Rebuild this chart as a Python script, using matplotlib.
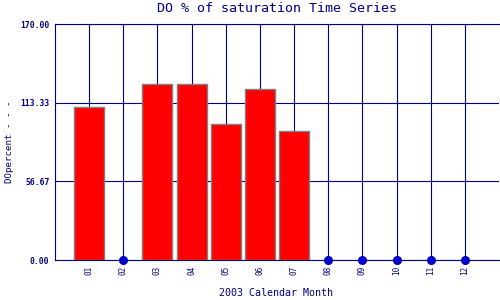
import matplotlib
matplotlib.use('Agg')
import matplotlib.pyplot as plt
import numpy as np

# 月份与数据 (缺测月份为 None)
months = [1, 2, 3, 4, 5, 6, 7, 8, 9, 10, 11, 12]
monthLabels = ['01', '02', '03', '04', '05', '06', '07', '08', '09', '10', '11', '12']
doPercent = [110.4, None, 126.6, 126.6, 97.7, 123.0, 92.7, None, None, None, None, None]
yTicks = [0.0, 56.67, 113.33, 170.0]

navy = '#000080'
plt.rcParams['font.family'] = ['DejaVu Sans Mono']

fig = plt.figure(figsize=(5, 3), dpi=100)
ax = fig.add_axes([0.11, 0.1333, 0.888, 0.7867])

barX = [m for m, v in zip(months, doPercent) if v is not None]
barY = [v for v in doPercent if v is not None]
missX = [m for m, v in zip(months, doPercent) if v is None]

ax.bar(barX, barY, width=0.88, color='#ff0000', edgecolor='#808080', linewidth=1.0, zorder=3)
ax.plot(missX, [0] * len(missX), 'o', color='#0000cc', markersize=5.5, clip_on=False, zorder=4)

ax.set_xlim(0, 13)
ax.set_ylim(0, 170)
ax.set_xticks(months)
ax.set_xticklabels(monthLabels, rotation=90, fontsize=5.5, color=navy)
ax.set_yticks(yTicks)
ax.set_yticklabels(['%.2f' % v for v in yTicks], fontsize=5.8, color=navy, fontweight='bold')
ax.tick_params(length=0, pad=4)

ax.grid(True, color=navy, linewidth=0.8, zorder=1)
ax.set_axisbelow(True)
for s in ['left', 'bottom', 'top']:
    ax.spines[s].set_color(navy)
    ax.spines[s].set_linewidth(0.8)
ax.spines['right'].set_visible(False)

ax.set_title('DO % of saturation Time Series', fontsize=9.6, color=navy, pad=8.5)
ax.set_xlabel('2003 Calendar Month', fontsize=7.2, color=navy)
ax.xaxis.set_label_coords(0.498, -0.12)
ax.set_ylabel('DOpercent - - -', fontsize=6.6, color=navy)
ax.yaxis.set_label_coords(-0.093, 0.5)

fig.savefig('out.png', dpi=100)
